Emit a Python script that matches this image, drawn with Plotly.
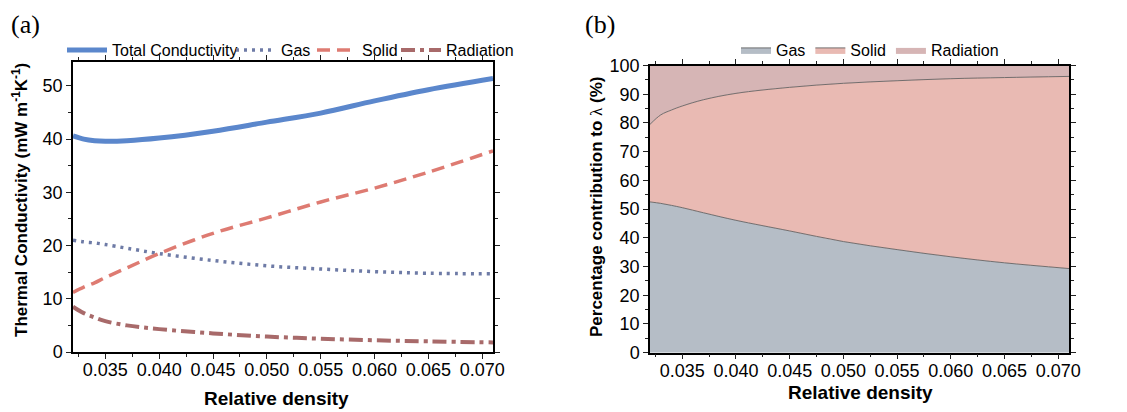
import plotly.graph_objects as go

# panel (a): thermal conductivity components, mW m-1 K-1
density = [0.032, 0.033, 0.034, 0.035, 0.037, 0.040, 0.045, 0.050, 0.055, 0.060, 0.065, 0.071]
total = [40.6, 40.0, 39.7, 39.6, 39.7, 40.2, 41.5, 43.2, 44.9, 47.2, 49.3, 51.4]
gas = [21.0, 20.7, 20.5, 20.2, 19.5, 18.5, 17.2, 16.2, 15.6, 15.1, 14.8, 14.7]
solid = [11.2, 12.2, 13.0, 14.0, 15.8, 18.5, 22.3, 25.2, 28.2, 30.8, 33.8, 37.8]
radiation = [8.5, 7.3, 6.5, 5.8, 5.0, 4.3, 3.5, 2.9, 2.5, 2.2, 2.0, 1.8]

# panel (b): percentage contribution
gas_pct = [52.5, 52.0, 51.3, 50.5, 48.7, 46.1, 42.4, 38.7, 35.9, 33.4, 31.3, 29.3]
solid_pct = [27.0, 30.8, 33.2, 35.4, 39.4, 44.2, 50.0, 55.1, 58.8, 62.0, 64.5, 66.9]
rad_pct = [20.5, 17.2, 15.5, 14.1, 11.9, 9.7, 7.6, 6.2, 5.3, 4.6, 4.2, 3.8]

x_ticks = [0.035, 0.040, 0.045, 0.050, 0.055, 0.060, 0.065, 0.070]

# the page body adds an 8px margin, so the figure is a bit smaller than the window
W, H, OFF = 1119, 404, 8


def xf(px):
    return (px - OFF) / W


def yf(py):
    return 1 - (py - OFF) / H


FONT = "Liberation Sans"
TICKFONT = dict(family=FONT, size=18, color="black")

fig = go.Figure()

# each left-panel entry gets its own legend so the entries sit tight like the original
left_series = [
    ("Total Conductivity", total, dict(color="#5B87CC", width=5), "legend", 68),
    ("Gas", gas, dict(color="#6E7BA6", width=3.5, dash="3px,5px"), "legend3", 237),
    ("Solid", solid, dict(color="#DE7B72", width=3.5, dash="13px,7px"), "legend4", 318),
    ("Radiation", radiation, dict(color="#A86A6A", width=4, dash="14px,5px,4px,5px"), "legend5", 402),
]
legend_layout = {}
for name, vals, line, leg, sx in left_series:
    fig.add_trace(go.Scatter(x=density, y=vals, name=name, mode="lines",
                             line=dict(shape="spline", **line), showlegend=True,
                             xaxis="x", yaxis="y", legend=leg))
    legend_layout[leg] = dict(orientation="h", x=xf(sx - 6), y=yf(50), xanchor="left",
                              yanchor="middle", font=dict(family=FONT, size=16),
                              bgcolor="rgba(0,0,0,0)", itemwidth=40)

fills = [("Gas", gas_pct, "#B5BDC6", 0.8),
         ("Solid", solid_pct, "#E9BAB3", 0.8),
         ("Radiation", rad_pct, "#D6B5B5", 0)]
for name, vals, col, lw in fills:
    fig.add_trace(go.Scatter(x=density, y=vals, name=name, mode="lines",
                             stackgroup="pct", fillcolor=col, showlegend=True,
                             line=dict(color="#555555", width=lw, shape="spline"),
                             xaxis="x2", yaxis="y2", legend="legend2"))

axis_common = dict(
    showline=True, linecolor="black", linewidth=1.5, mirror="ticks",
    ticks="outside", ticklen=5, tickwidth=1, tickcolor="#222",
    showgrid=False, zeroline=False, automargin=False,
)
minor_x = dict(ticklen=3, dtick=0.0025, tick0=0.0325, ticks="outside", tickcolor="#222")
minor_y = dict(ticklen=3, dtick=5, ticks="outside", tickcolor="#222")

fig.update_layout(
    width=W, height=H, showlegend=True,
    margin=dict(l=0, r=0, t=0, b=0, autoexpand=False),
    paper_bgcolor="white", plot_bgcolor="white",
    font=dict(family=FONT, color="black"),
    xaxis=dict(domain=[xf(73), xf(493)], range=[0.032, 0.071], tickvals=x_ticks,
               tickformat=".3f", minor=minor_x, anchor="y", **axis_common),
    yaxis=dict(domain=[yf(352), yf(62)], range=[0, 54.5], dtick=10,
               minor=minor_y, anchor="x", **axis_common),
    xaxis2=dict(domain=[xf(650), xf(1069)], range=[0.032, 0.071], tickvals=x_ticks,
                tickformat=".3f", minor=minor_x, anchor="y2", **axis_common),
    yaxis2=dict(domain=[yf(352.7), yf(65.5)], range=[0, 100], dtick=10,
                minor=minor_y, anchor="x2", **axis_common),
    legend2=dict(orientation="h", x=xf(870), y=yf(50), xanchor="center", yanchor="middle",
                 font=dict(family=FONT, size=16), bgcolor="rgba(0,0,0,0)",
                 traceorder="normal"),
    annotations=[
        dict(text="(a)", x=xf(25), y=yf(24), xref="paper", yref="paper", xanchor="center",
             yanchor="middle", showarrow=False,
             font=dict(family="Liberation Serif", size=26)),
        dict(text="(b)", x=xf(600), y=yf(24), xref="paper", yref="paper", xanchor="center",
             yanchor="middle", showarrow=False,
             font=dict(family="Liberation Serif", size=26)),
        dict(text="<b>Relative density</b>", x=xf(276), y=yf(398), xref="paper", yref="paper",
             xanchor="center", yanchor="middle", showarrow=False,
             font=dict(family=FONT, size=19)),
        dict(text="<b>Relative density</b>", x=xf(860), y=yf(392), xref="paper", yref="paper",
             xanchor="center", yanchor="middle", showarrow=False,
             font=dict(family=FONT, size=19)),
        dict(text="<b>Thermal Conductivity (mW m<sup>-1</sup>K<sup>-1</sup>)</b>",
             x=xf(20), y=yf(200), xref="paper", yref="paper", xanchor="center", yanchor="middle",
             textangle=-90, showarrow=False,
             font=dict(family=FONT, size=17)),
        dict(text="<b>Percentage contribution to </b><span style='font-family:Liberation Serif'>λ</span><b> (%)</b>",
             x=xf(596), y=yf(207), xref="paper", yref="paper", xanchor="center", yanchor="middle",
             textangle=-90, showarrow=False,
             font=dict(family=FONT, size=17)),
    ],
    **legend_layout,
)
fig.update_xaxes(tickfont=TICKFONT, ticklabelstandoff=-4)
fig.update_yaxes(tickfont=TICKFONT)

fig.write_html("out.html")
